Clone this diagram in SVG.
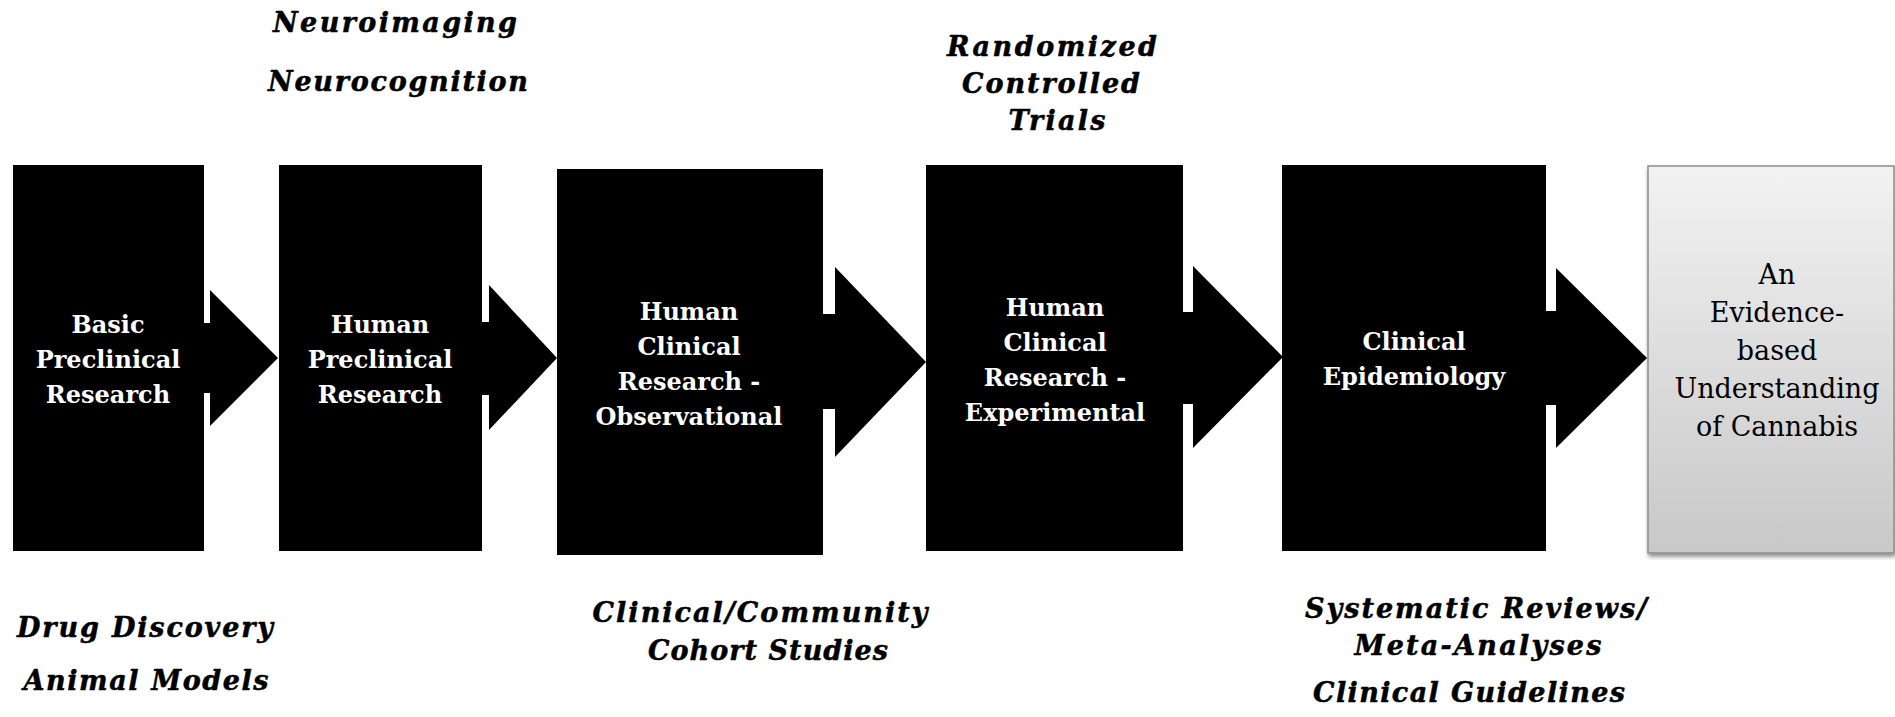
<svg xmlns="http://www.w3.org/2000/svg" width="1895" height="717" viewBox="0 0 1895 717">
  <defs>
    <linearGradient id="outcomeFill" x1="0" y1="0" x2="0" y2="1">
      <stop offset="0" stop-color="#f2f2f2"/>
      <stop offset="1" stop-color="#c8c8c8"/>
    </linearGradient>
    <filter id="dropShadow" x="-10%" y="-10%" width="120%" height="120%">
      <feGaussianBlur in="SourceAlpha" stdDeviation="2"/>
      <feOffset dx="1" dy="3" result="off"/>
      <feComponentTransfer><feFuncA type="linear" slope="0.45"/></feComponentTransfer>
      <feMerge><feMergeNode/><feMergeNode in="SourceGraphic"/></feMerge>
    </filter>
    <style>
      .stage { fill: #000; }
      .stage-label { font-family: "DejaVu Serif", "Liberation Serif", serif; font-weight: bold; font-size: 24px; fill: #fff; text-anchor: middle; }
      .outcome { fill: url(#outcomeFill); stroke: #8c8c8c; stroke-width: 1.5; }
      .outcome-label { font-family: "DejaVu Serif", "Liberation Serif", serif; font-size: 27px; fill: #000; text-anchor: middle; }
      .method { font-family: "DejaVu Serif", "Liberation Serif", serif; font-weight: bold; font-style: italic; font-size: 27px; fill: #000; stroke: #000; stroke-width: 0.5; text-anchor: middle; }
      .arrow { fill: #000; }
    </style>
  </defs>
  <rect width="1895" height="717" fill="#fff"/>

  <!-- block arrows between stages -->
  <g id="connectors">
    <rect class="arrow" x="200" y="323" width="12" height="70"/>
    <polygon class="arrow" points="210,290 278,358 210,426"/>
    <rect class="arrow" x="478" y="322" width="13" height="73"/>
    <polygon class="arrow" points="489,285 557,358 489,430"/>
    <rect class="arrow" x="819" y="314" width="18" height="95"/>
    <polygon class="arrow" points="835,267 926,362 835,457"/>
    <rect class="arrow" x="1179" y="312" width="16" height="92"/>
    <polygon class="arrow" points="1193,266 1283,357 1193,448"/>
    <rect class="arrow" x="1542" y="311" width="16" height="94"/>
    <polygon class="arrow" points="1556,268 1647,358 1556,448"/>
  </g>

  <g id="basic-preclinical">
    <rect class="stage" x="13" y="165" width="191" height="386"/>
    <text class="stage-label"><tspan x="108" y="333">Basic</tspan><tspan x="108" y="368">Preclinical</tspan><tspan x="108" y="403">Research</tspan></text>
  </g>

  <g id="human-preclinical">
    <rect class="stage" x="279" y="165" width="203" height="386"/>
    <text class="stage-label"><tspan x="380" y="333">Human</tspan><tspan x="380" y="368">Preclinical</tspan><tspan x="380" y="403">Research</tspan></text>
  </g>

  <g id="clinical-observational">
    <rect class="stage" x="557" y="169" width="266" height="386"/>
    <text class="stage-label"><tspan x="689" y="320">Human</tspan><tspan x="689" y="355">Clinical</tspan><tspan x="689" y="390">Research -</tspan><tspan x="689" y="425">Observational</tspan></text>
  </g>

  <g id="clinical-experimental">
    <rect class="stage" x="926" y="165" width="257" height="386"/>
    <text class="stage-label"><tspan x="1055" y="316">Human</tspan><tspan x="1055" y="351">Clinical</tspan><tspan x="1055" y="386">Research -</tspan><tspan x="1055" y="421">Experimental</tspan></text>
  </g>

  <g id="clinical-epidemiology">
    <rect class="stage" x="1282" y="165" width="264" height="386"/>
    <text class="stage-label"><tspan x="1414" y="350">Clinical</tspan><tspan x="1414" y="385">Epidemiology</tspan></text>
  </g>

  <g id="evidence-based-understanding">
    <rect class="outcome" x="1648" y="166" width="246" height="387" filter="url(#dropShadow)"/>
    <text class="outcome-label"><tspan x="1777" y="284">An</tspan><tspan x="1777" y="322">Evidence-</tspan><tspan x="1777" y="360">based</tspan><tspan x="1777" y="398">Understanding</tspan><tspan x="1777" y="436">of Cannabis</tspan></text>
  </g>

  <!-- study designs associated with each stage -->
  <g id="methods-top">
    <text class="method" x="395" y="32" textLength="244" lengthAdjust="spacing">Neuroimaging</text>
    <text class="method" x="398" y="91" textLength="260" lengthAdjust="spacing">Neurocognition</text>
    <text class="method" x="1052" y="56" textLength="210" lengthAdjust="spacing">Randomized</text>
    <text class="method" x="1051" y="93" textLength="178" lengthAdjust="spacing">Controlled</text>
    <text class="method" x="1057" y="130" textLength="97" lengthAdjust="spacing">Trials</text>
  </g>
  <g id="methods-bottom">
    <text class="method" x="145" y="637" textLength="256" lengthAdjust="spacing">Drug Discovery</text>
    <text class="method" x="146" y="690" textLength="245" lengthAdjust="spacing">Animal Models</text>
    <text class="method" x="760" y="622" textLength="335" lengthAdjust="spacing">Clinical/Community</text>
    <text class="method" x="768" y="660" textLength="240" lengthAdjust="spacing">Cohort Studies</text>
    <text class="method" x="1476" y="618" textLength="342" lengthAdjust="spacing">Systematic Reviews/</text>
    <text class="method" x="1478" y="655" textLength="247" lengthAdjust="spacing">Meta-Analyses</text>
    <text class="method" x="1469" y="702" textLength="312" lengthAdjust="spacing">Clinical Guidelines</text>
  </g>
</svg>
